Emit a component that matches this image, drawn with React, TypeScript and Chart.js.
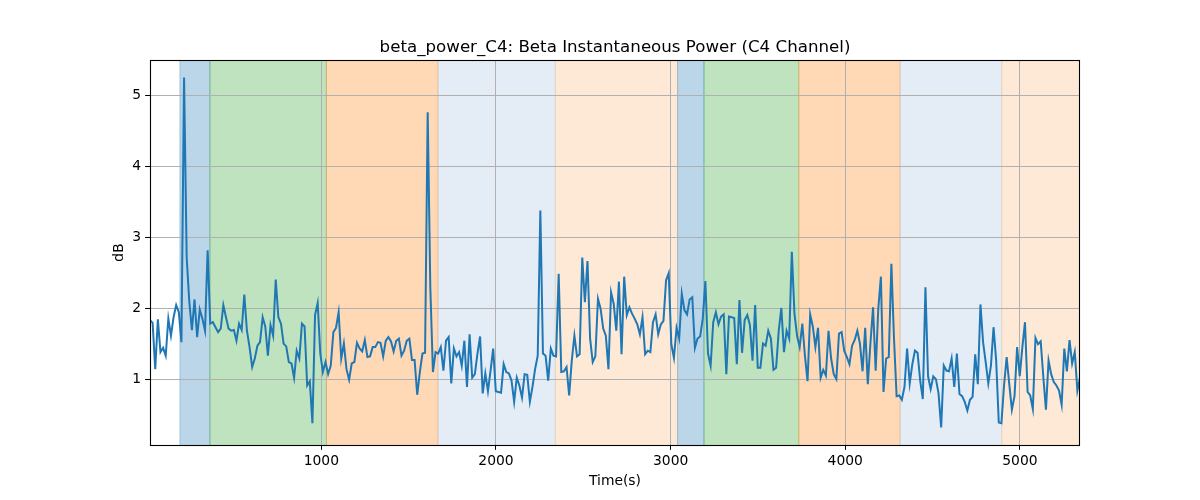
import React, { useEffect, useRef } from "react";
import { Chart, registerables } from "chart.js";

Chart.register(...registerables);

const powerA = [1.84, 1.80, 1.15, 1.85, 1.39, 1.45, 1.34, 1.86, 1.62, 1.88, 2.05, 1.95, 1.53, 5.25, 2.72, 2.10, 1.70, 2.13, 1.60, 1.99, 1.86, 1.69, 2.82, 1.79];
const powerB = [1.81, 1.74, 1.67, 1.72, 2.05, 1.88, 1.72, 1.69, 1.70, 1.55, 1.79, 1.70, 2.20, 1.69, 1.46, 1.18, 1.30, 1.48, 1.53, 1.88, 1.75, 1.34, 1.77, 1.62, 2.41, 1.88, 1.79];
const powerC = [1.51, 1.47, 1.25, 1.23, 1.03, 1.41, 1.30, 1.79, 1.75, 0.92, 0.98, 0.39, 1.91, 2.08, 1.37, 1.11, 1.25, 1.08, 1.20, 1.67, 1.73, 1.95, 1.30, 1.51, 1.15, 1.00, 1.23, 1.25, 1.52, 1.44, 1.40, 1.56, 1.32, 1.33, 1.46, 1.46, 1.53, 1.52, 1.33, 1.55, 1.60, 1.54, 1.40, 1.55, 1.58, 1.34, 1.41, 1.55, 1.58, 1.28];
const powerD = [1.28, 0.79, 1.11, 1.37, 1.38, 4.76, 2.30, 1.11, 1.39, 1.37, 1.46, 1.13, 1.55, 1.60, 0.95, 1.44, 1.33, 1.39, 1.20, 1.55, 0.90, 1.64, 1.03, 1.08, 1.37, 1.61, 0.81, 1.09, 0.84, 1.13, 1.44, 0.84, 0.83, 0.82, 1.22, 1.11, 1.09, 0.99, 0.69, 1.03, 0.92, 0.75, 1.08, 1.07, 0.69, 0.90, 1.15, 1.34, 3.38, 1.37, 1.34];
const powerE = [0.99, 1.44, 1.34, 1.33, 2.49, 1.11, 1.12, 1.18, 0.78, 1.27, 1.62, 1.33, 1.36, 2.72, 2.09, 2.67, 1.58, 1.25, 1.33, 2.14, 2.00, 1.72, 1.62, 1.15, 2.23, 2.07, 1.69, 2.38, 1.36, 2.45, 1.91, 2.02, 1.93, 1.86, 1.78, 1.64, 1.88, 1.36, 1.41, 1.39, 1.81, 1.92, 1.64, 1.78, 1.83, 2.40, 2.50, 1.50, 1.31, 1.73];
const powerF = [1.58, 2.21, 1.98, 1.92, 2.13, 2.16, 1.45, 1.58, 1.61, 1.86, 2.39, 1.37, 1.20, 1.81, 1.95, 1.78, 1.89, 1.92, 1.08, 1.89, 1.88, 1.87, 1.22, 2.12, 1.38, 1.84, 1.91, 1.77, 1.27, 2.05, 1.17, 1.17, 1.51, 1.48, 1.69, 1.58, 1.14, 1.17, 1.69, 2.01, 1.39, 1.69, 1.58, 2.80, 1.93, 1.62, 1.46, 1.79, 1.34, 0.98];
const powerG = [1.92, 1.75, 1.46, 1.73, 1.03, 1.14, 1.06, 1.69, 1.30, 1.08, 1.01, 1.65, 1.67, 1.41, 1.32, 1.22, 1.48, 1.56, 1.69, 1.51, 1.12, 1.73, 0.94, 1.51, 2.02, 1.13, 2.00, 2.45, 0.83, 1.30, 1.32, 2.63, 1.58, 0.77, 0.78, 0.72, 0.90, 1.44, 0.95, 1.22, 1.41, 1.38, 0.99, 0.73, 2.30, 1.05, 0.87, 1.05, 1.01, 0.81, 0.33, 1.20];
const powerH = [1.13, 1.12, 1.30, 0.90, 1.37, 0.80, 0.77, 0.69, 0.57, 0.72, 0.76, 1.36, 0.94, 2.06, 1.53, 1.25, 0.95, 1.20, 1.74, 1.27, 0.40, 0.39, 0.92, 1.32, 0.94, 0.58, 0.77, 1.46, 1.05, 1.46, 1.81, 0.83, 0.78, 0.59, 1.59, 1.50, 1.54, 1.04, 0.58, 1.27, 1.08, 0.97, 0.92, 0.85, 0.65, 1.44, 1.12, 1.56, 1.23, 1.39, 0.85, 1.03];

const power = [...powerA, ...powerB, ...powerC, ...powerD, ...powerE, ...powerF, ...powerG, ...powerH];

// sampling grid (seconds)
const startTime = 19;
const sampleStep = 15;
const times = power.map((_, i) => startTime + i * sampleStep);

// shaded stage bands (seconds)
const bandStarts = [190, 362, 1029, 1668, 2340, 3040, 3191, 3734, 4314, 4896];
const bandEnds = [362, 1029, 1668, 2340, 3040, 3191, 3734, 4314, 4896, 5400];
const bandColors = [
  "rgba(31,119,180,0.3)",
  "rgba(44,160,44,0.3)",
  "rgba(255,127,14,0.3)",
  "rgba(165,192,225,0.3)",
  "rgba(250,182,118,0.3)",
  "rgba(31,119,180,0.3)",
  "rgba(44,160,44,0.3)",
  "rgba(255,127,14,0.3)",
  "rgba(165,192,225,0.3)",
  "rgba(250,182,118,0.3)",
];

const xTicks = [1000, 2000, 3000, 4000, 5000];
const yTicks = [1, 2, 3, 4, 5];

const titleText = "beta_power_C4: Beta Instantaneous Power (C4 Channel)";
const xLabel = "Time(s)";
const yLabel = "dB";

const FONT = "'DejaVu Sans', 'Liberation Sans', sans-serif";

const bandPlugin = {
  id: "bands",
  beforeDraw(chart: any) {
    const { ctx, chartArea, scales } = chart;
    const x = scales.x;
    ctx.save();
    ctx.fillStyle = "#ffffff";
    ctx.fillRect(0, 0, chart.width, chart.height);
    ctx.beginPath();
    ctx.rect(chartArea.left, chartArea.top, chartArea.right - chartArea.left, chartArea.bottom - chartArea.top);
    ctx.clip();
    bandStarts.forEach((s, i) => {
      const x0 = x.getPixelForValue(s);
      const x1 = x.getPixelForValue(bandEnds[i]);
      ctx.fillStyle = bandColors[i];
      ctx.fillRect(x0, chartArea.top, x1 - x0, chartArea.bottom - chartArea.top);
      ctx.strokeStyle = bandColors[i];
      ctx.lineWidth = 1;
      ctx.beginPath();
      ctx.moveTo(x0, chartArea.top);
      ctx.lineTo(x0, chartArea.bottom);
      ctx.moveTo(x1, chartArea.top);
      ctx.lineTo(x1, chartArea.bottom);
      ctx.stroke();
    });
    ctx.restore();
  },
  afterDatasetsDraw(chart: any) {
    const { ctx, chartArea } = chart;
    ctx.save();
    ctx.strokeStyle = "#000000";
    ctx.lineWidth = 1.1;
    ctx.strokeRect(
      Math.round(chartArea.left) + 0.5,
      Math.round(chartArea.top) + 0.5,
      Math.round(chartArea.right - chartArea.left) - 1,
      Math.round(chartArea.bottom - chartArea.top)
    );
    // axes title, centred over the plot area
    ctx.fillStyle = "#000";
    ctx.font = `16.67px ${FONT}`;
    ctx.textAlign = "center";
    ctx.textBaseline = "alphabetic";
    ctx.fillText(titleText, (chartArea.left + chartArea.right) / 2, 52);
    ctx.restore();
  },
};

export default function App() {
  const canvasRef = useRef<HTMLCanvasElement | null>(null);

  useEffect(() => {
    if (!canvasRef.current) return;
    const pMin = Math.min(...power);
    const pMax = Math.max(...power);
    const margin = 0.05 * (pMax - pMin);

    const chart = new Chart(canvasRef.current, {
      type: "line",
      data: {
        datasets: [
          {
            label: "beta_power_C4",
            data: times.map((t, i) => ({ x: t, y: power[i] })),
            borderColor: "#1f77b4",
            borderWidth: 2,
            pointRadius: 0,
            tension: 0,
            fill: false,
          },
        ],
      },
      options: {
        responsive: false,
        animation: false,
        devicePixelRatio: 1,
        layout: { padding: { left: 0, right: 120, top: 60, bottom: 0 } },
        plugins: {
          legend: { display: false },
          tooltip: { enabled: false },
          title: { display: false },
        },
        scales: {
          x: {
            type: "linear",
            min: times[0],
            max: times[times.length - 1],
            afterBuildTicks: (scale: any) => {
              scale.ticks = xTicks.map((v) => ({ value: v }));
            },
            afterFit: (scale: any) => {
              scale.height = 55;
            },
            grid: {
              color: "#b0b0b0",
              lineWidth: 1,
              tickColor: "#000",
              tickLength: 4.86,
              tickWidth: 1,
            },
            border: { display: false },
            ticks: {
              color: "#000",
              font: { family: FONT, size: 13.89 },
              padding: 3.5,
              maxRotation: 0,
              callback: (v: any) => String(v),
            },
            title: {
              display: true,
              text: xLabel,
              color: "#000",
              font: { family: FONT, size: 13.89, lineHeight: 1.2 },
              padding: { top: 0, bottom: 10.7 },
            },
          },
          y: {
            type: "linear",
            min: pMin - margin,
            max: pMax + margin,
            afterBuildTicks: (scale: any) => {
              scale.ticks = yTicks.map((v) => ({ value: v }));
            },
            afterFit: (scale: any) => {
              scale.width = 150;
            },
            grid: {
              color: "#b0b0b0",
              lineWidth: 1,
              tickColor: "#000",
              tickLength: 4.86,
              tickWidth: 1,
            },
            border: { display: false },
            ticks: {
              color: "#000",
              font: { family: FONT, size: 13.89 },
              padding: 4,
              callback: (v: any) => String(v),
            },
            title: {
              display: true,
              text: yLabel,
              color: "#000",
              font: { family: FONT, size: 13.89, lineHeight: 1.2 },
              padding: { top: 110.7, bottom: 0 },
            },
          },
        },
      },
      plugins: [bandPlugin],
    } as any);

    return () => chart.destroy();
  }, []);

  return (
    <div style={{ position: "absolute", left: 0, top: 0, width: 1200, height: 500, background: "#fff" }}>
      <canvas ref={canvasRef} width={1200} height={500} style={{ display: "block" }} />
    </div>
  );
}
